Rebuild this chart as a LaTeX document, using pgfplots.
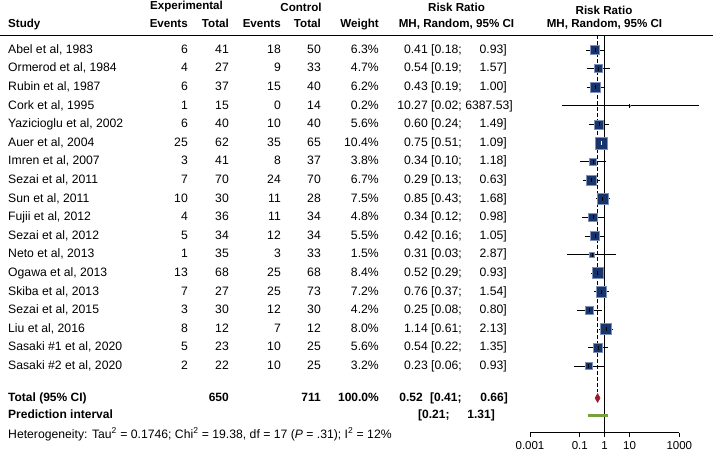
\documentclass[border=0pt]{standalone}
\usepackage{pgfplots}
\pgfplotsset{compat=1.18}
\usepackage{pgfplotstable}
\usepackage{fontspec}
\setmainfont{Liberation Sans}

\definecolor{sqfill}{RGB}{24,52,108}
\definecolor{sqdraw}{RGB}{125,145,185}
\definecolor{diam}{RGB}{160,25,45}
\definecolor{pred}{RGB}{122,160,60}

% per study: row, risk ratio, 95% CI, weight (%), CI inside the square?
\pgfplotstableread{
row est lo hi w inside
1 0.41 0.18 0.93 6.3 0
2 0.54 0.19 1.57 4.7 0
3 0.43 0.19 1.00 6.2 0
4 10.27 0.02 6387.53 0.2 0
5 0.60 0.24 1.49 5.6 0
6 0.75 0.51 1.09 10.4 1
7 0.34 0.10 1.18 3.8 0
8 0.29 0.13 0.63 6.7 0
9 0.85 0.43 1.68 7.5 0
10 0.34 0.12 0.98 4.8 0
11 0.42 0.16 1.05 5.5 0
12 0.31 0.03 2.87 1.5 0
13 0.52 0.29 0.93 8.4 0
14 0.76 0.37 1.54 7.2 0
15 0.25 0.08 0.80 4.2 0
16 1.14 0.61 2.13 8.0 0
17 0.54 0.22 1.35 5.6 0
18 0.23 0.06 0.93 3.2 0
}\studies

\newcommand\srow[7]{% row, study, events/total, events/total, weight
  \node[anchor=mid west] at (8,#1) {#2};
  \node[anchor=mid east] at (188,#1) {#3};
  \node[anchor=mid east] at (229,#1) {#4};
  \node[anchor=mid east] at (281,#1) {#5};
  \node[anchor=mid east] at (321,#1) {#6};
  \node[anchor=mid east] at (379,#1) {#7\%};
}
\newcommand\rr[5][507]{% [right edge], row, estimate, lower, upper
  \node[anchor=mid east] at (428,#2) {#3};
  \node[anchor=mid west] at (431,#2) {[#4;};
  \node[anchor=mid east] at (#1,#2) {#5]};
}

\begin{document}
\fontsize{12.2}{14.6}\selectfont
\begin{tikzpicture}[every node/.style={inner sep=0pt}]
\useasboundingbox (0,0) rectangle (713pt,-455pt);

% header
\begin{scope}[x=1pt,y=-1pt,every node/.append style={font=\bfseries\fontsize{11.6}{13.9}\selectfont}]
  \node at (186.5,7) {Experimental};
  \node at (301,7) {Control};
  \node at (456.5,7) {Risk Ratio};
  \node at (604,10) {Risk Ratio};
  \node[anchor=mid west] at (8,24) {Study};
  \node[anchor=mid east] at (188,24) {Events};
  \node[anchor=mid east] at (229,24) {Total};
  \node[anchor=mid east] at (281,24) {Events};
  \node[anchor=mid east] at (321,24) {Total};
  \node[anchor=mid east] at (379,24) {Weight};
  \node at (456.5,24) {MH, Random, 95\% CI};
  \node at (604.5,24) {MH, Random, 95\% CI};
  \draw[line width=0.8pt] (0,35) -- (713,35);
\end{scope}

% table rows
\begin{scope}[x=1pt,y=-18.6pt,yshift=-31.4pt]
  \srow{1}{Abel et al, 1983}{6}{41}{18}{50}{6.3}          \rr{1}{0.41}{0.18}{0.93}
  \srow{2}{Ormerod et al, 1984}{4}{27}{9}{33}{4.7}        \rr{2}{0.54}{0.19}{1.57}
  \srow{3}{Rubin et al, 1987}{6}{37}{15}{40}{6.2}         \rr{3}{0.43}{0.19}{1.00}
  \srow{4}{Cork et al, 1995}{1}{15}{0}{14}{0.2}           \rr[513]{4}{10.27}{0.02}{6387.53}
  \srow{5}{Yazicioglu et al, 2002}{6}{40}{10}{40}{5.6}    \rr{5}{0.60}{0.24}{1.49}
  \srow{6}{Auer et al, 2004}{25}{62}{35}{65}{10.4}        \rr{6}{0.75}{0.51}{1.09}
  \srow{7}{Imren et al, 2007}{3}{41}{8}{37}{3.8}          \rr{7}{0.34}{0.10}{1.18}
  \srow{8}{Sezai et al, 2011}{7}{70}{24}{70}{6.7}         \rr{8}{0.29}{0.13}{0.63}
  \srow{9}{Sun et al, 2011}{10}{30}{11}{28}{7.5}          \rr{9}{0.85}{0.43}{1.68}
  \srow{10}{Fujii et al, 2012}{4}{36}{11}{34}{4.8}        \rr{10}{0.34}{0.12}{0.98}
  \srow{11}{Sezai et al, 2012}{5}{34}{12}{34}{5.5}        \rr{11}{0.42}{0.16}{1.05}
  \srow{12}{Neto et al, 2013}{1}{35}{3}{33}{1.5}          \rr{12}{0.31}{0.03}{2.87}
  \srow{13}{Ogawa et al, 2013}{13}{68}{25}{68}{8.4}       \rr{13}{0.52}{0.29}{0.93}
  \srow{14}{Skiba et al, 2013}{7}{27}{25}{73}{7.2}        \rr{14}{0.76}{0.37}{1.54}
  \srow{15}{Sezai et al, 2015}{3}{30}{12}{30}{4.2}        \rr{15}{0.25}{0.08}{0.80}
  \srow{16}{Liu et al, 2016}{8}{12}{7}{12}{8.0}           \rr{16}{1.14}{0.61}{2.13}
  \srow{17}{Sasaki \#1 et al, 2020}{5}{23}{10}{25}{5.6}   \rr{17}{0.54}{0.22}{1.35}
  \srow{18}{Sasaki \#2 et al, 2020}{2}{22}{10}{25}{3.2}   \rr{18}{0.23}{0.06}{0.93}

  \begin{scope}[every node/.append style={font=\bfseries\fontsize{12}{14.4}\selectfont}]
    \node[anchor=mid west] at (8,19.71) {Total (95\% CI)};
    \node[anchor=mid east] at (229,19.71) {650};
    \node[anchor=mid east] at (321,19.71) {711};
    \node[anchor=mid east] at (379,19.71) {100.0\%};
    \node[anchor=mid east] at (423,19.71) {0.52};
    \node[anchor=mid west] at (430,19.71) {[0.41;};
    \node[anchor=mid east] at (508,19.71) {0.66]};
    \node[anchor=mid west] at (8,20.66) {Prediction interval};
    \node[anchor=mid west] at (418,20.66) {[0.21;};
    \node[anchor=mid east] at (495,20.66) {1.31]};
  \end{scope}
  \node[anchor=mid west] at (8,21.70) {Heterogeneity: Tau\textsuperscript{2} = 0.1746; Chi\textsuperscript{2} = 19.38, df = 17 (\textit{P} = .31); I\textsuperscript{2} = 12\%};
\end{scope}

\begin{axis}[
    at={(530pt,-432.7pt)}, anchor=south west,
    scale only axis, width=149.3pt, height=397.7pt,
    xmode=log, xmin=0.001, xmax=1000,
    ymin=-21.575, ymax=-0.194,
    clip=false,
    axis y line=none, axis x line=bottom,
    axis line style={-, line width=0.8pt},
    xtick={0.001,0.1,1,10,1000},
    xticklabels={0.001,0.1,1,10,1000},
    tick align=outside, major tick length=4pt,
    xtick style={line width=0.8pt, black},
    xticklabel style={font=\fontsize{11.5}{13.8}\selectfont, yshift=-5pt},
    /pgf/number format/assume math mode=true,
]
  % reference lines
  \addplot[black, line width=0.8pt] coordinates {(1,-0.194) (1,-21.575)};
  \addplot[black, line width=0.8pt, dash pattern=on 3.5pt off 2.5pt] coordinates {(0.52,-0.194) (0.52,-19.39)};

  % squares, area by weight
  \addplot[scatter, only marks, mark=square*,
    scatter/use mapped color={draw=sqdraw, fill=sqfill},
    mark options={line width=0.7pt},
    visualization depends on={1.9*sqrt(\thisrow{w}) \as \msz},
    scatter/@pre marker code/.append style={/tikz/mark size=\msz}]
    table[x=est, y expr=-\thisrow{row}] {\studies};

  % confidence intervals
  \pgfplotsforeachungrouped \i in {0,...,17}{
    \pgfplotstablegetelem{\i}{row}\of\studies \let\ciRow\pgfplotsretval
    \pgfplotstablegetelem{\i}{est}\of\studies \let\ciEst\pgfplotsretval
    \pgfplotstablegetelem{\i}{lo}\of\studies \let\ciLo\pgfplotsretval
    \pgfplotstablegetelem{\i}{hi}\of\studies \let\ciHi\pgfplotsretval
    \pgfplotstablegetelem{\i}{inside}\of\studies
    \ifnum\pgfplotsretval=1 \def\ciCol{white}\else\def\ciCol{black}\fi
    \edef\cmd{\noexpand\addplot[\ciCol, line width=0.8pt] coordinates {(\ciLo,-\ciRow) (\ciHi,-\ciRow)};
      \noexpand\addplot[\ciCol, only marks, mark=|, mark size=2pt, mark options={line width=0.8pt}] coordinates {(\ciEst,-\ciRow)};}
    \cmd
  }

  % pooled estimate and prediction interval
  \addplot[fill=diam, draw=diam, line width=0.4pt] coordinates {(0.41,-19.71) (0.52,-19.47) (0.66,-19.71) (0.52,-19.95)} -- cycle;
  \addplot[pred, line width=2.6pt] coordinates {(0.21,-20.66) (1.31,-20.66)};
\end{axis}
\end{tikzpicture}
\end{document}
